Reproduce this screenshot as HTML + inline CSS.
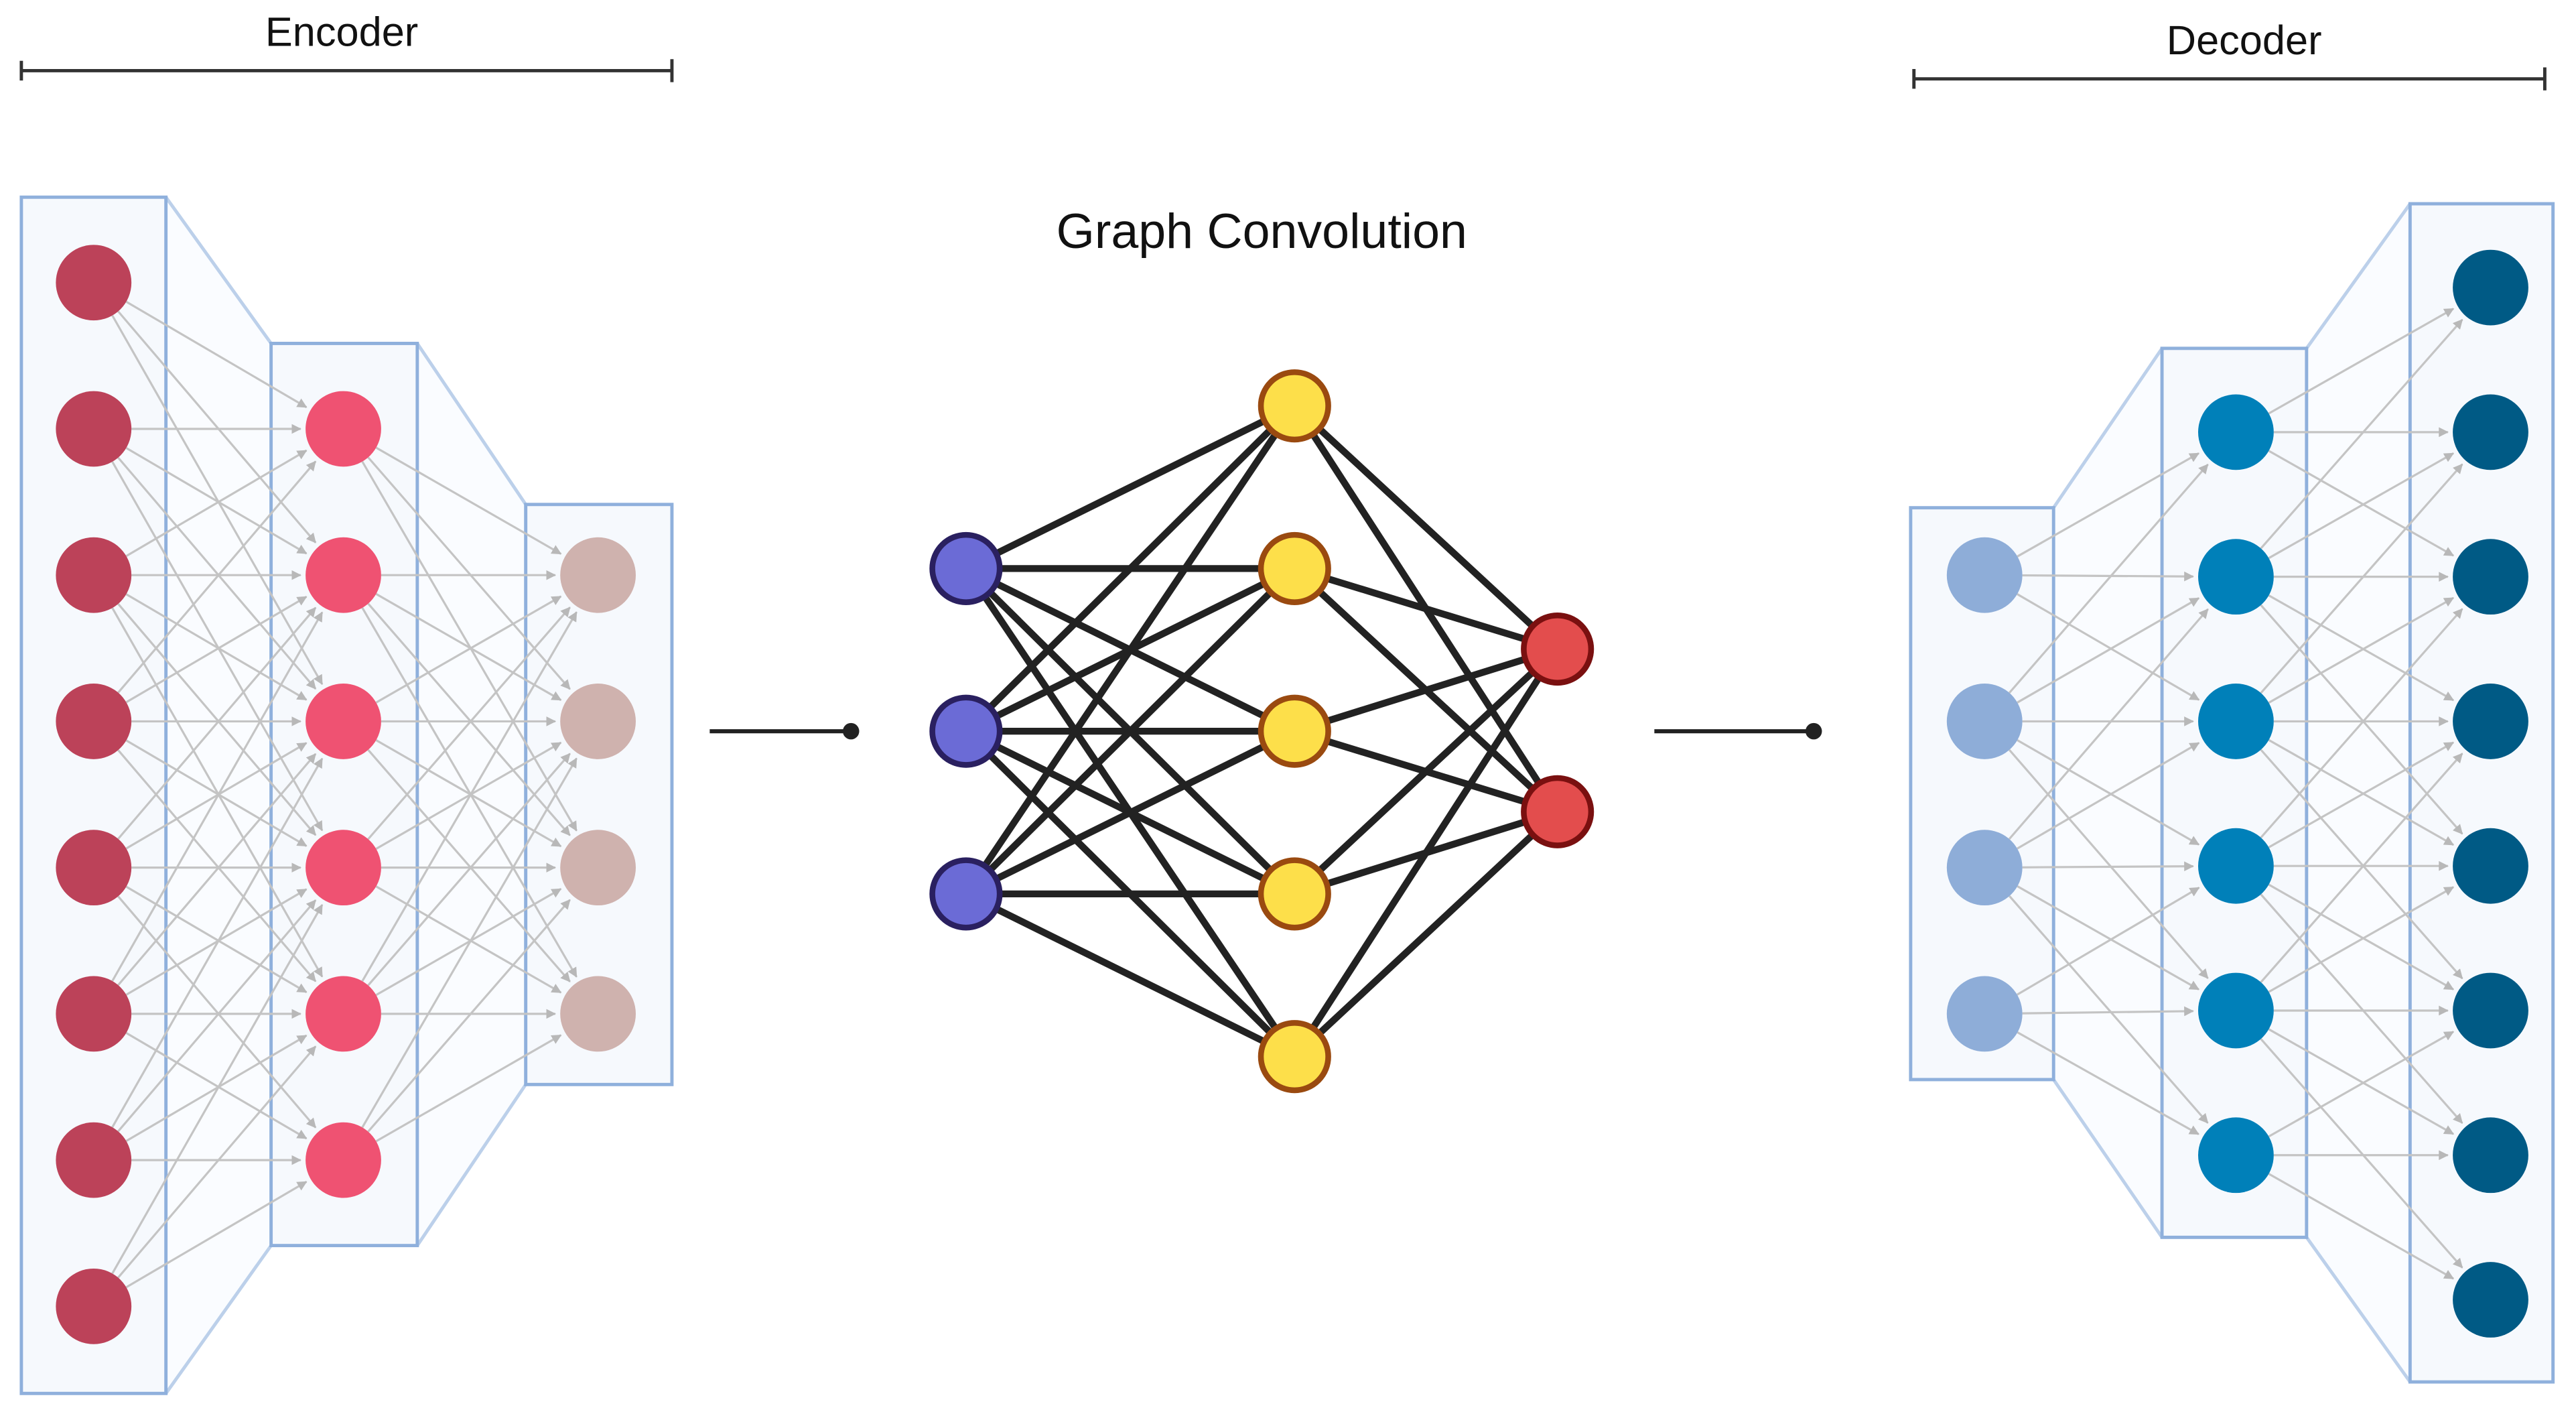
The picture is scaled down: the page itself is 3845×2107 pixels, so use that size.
<!DOCTYPE html>
<html><head><meta charset="utf-8">
<style>
html,body{margin:0;padding:0;background:#fff;}
svg{display:block;}
text{font-family:"Liberation Sans",sans-serif;}
</style></head>
<body>
<svg id="s" width="3845" height="2107" viewBox="0 0 1568 859.3" preserveAspectRatio="none" xmlns="http://www.w3.org/2000/svg">
<defs>
<marker id="ar" markerWidth="6" markerHeight="6" refX="5.5" refY="3" orient="auto" markerUnits="userSpaceOnUse">
<path d="M0,0 L6,3 L0,6 z" fill="#b8b8b8"/>
</marker>
</defs>
<rect width="1568" height="860" fill="#fff"/>
<text x="208" y="28" font-size="25" text-anchor="middle" fill="#111">Encoder</text>
<line x1="13" y1="43" x2="409" y2="43" stroke="#333" stroke-width="2"/>
<line x1="13" y1="37" x2="13" y2="49" stroke="#333" stroke-width="2"/>
<line x1="409" y1="36" x2="409" y2="50" stroke="#333" stroke-width="2"/>
<text x="1366" y="33" font-size="25" text-anchor="middle" fill="#111">Decoder</text>
<line x1="1165" y1="48" x2="1549" y2="48" stroke="#333" stroke-width="2"/>
<line x1="1165" y1="42" x2="1165" y2="54" stroke="#333" stroke-width="2"/>
<line x1="1549" y1="41" x2="1549" y2="55" stroke="#333" stroke-width="2"/>
<text x="768" y="151" font-size="30" text-anchor="middle" fill="#111">Graph Convolution</text>
<line x1="432" y1="445" x2="518" y2="445" stroke="#222" stroke-width="2.5"/>
<circle cx="518" cy="445" r="5" fill="#222"/>
<line x1="1007" y1="445" x2="1104" y2="445" stroke="#222" stroke-width="2.5"/>
<circle cx="1104" cy="445" r="5" fill="#222"/>
<g id="g"></g>
</svg>
<script>
var NS="http://www.w3.org/2000/svg",g=document.getElementById("g");
function el(t,a){var e=document.createElementNS(NS,t);for(var k in a)e.setAttribute(k,a[k]);g.appendChild(e);return e;}
function box(x1,y1,x2,y2){el("rect",{x:x1,y:y1,width:x2-x1,height:y2-y1,fill:"#f6f9fd",stroke:"#8fb0dc","stroke-width":2});}
function trap(a,b){
 var p;
 if(a[2]<b[0]){p=[a[2],a[1],b[0],b[1],b[0],b[3],a[2],a[3]];}
 else{p=[a[0],a[1],b[2],b[1],b[2],b[3],a[0],a[3]];}
 el("polygon",{points:p.join(","),fill:"#fafcff",stroke:"none"});
 el("line",{x1:p[0],y1:p[1],x2:p[2],y2:p[3],stroke:"#bcd0ea","stroke-width":2});
 el("line",{x1:p[6],y1:p[7],x2:p[4],y2:p[5],stroke:"#bcd0ea","stroke-width":2});
}
function ys(a,step,n){var r=[];for(var i=0;i<n;i++)r.push(a+i*step);return r;}
function conn(x1,Y1,x2,Y2,r){
 for(var i=0;i<Y1.length;i++){
  var t=i*(Y2.length-1)/(Y1.length-1);
  for(var j=0;j<Y2.length;j++){
   if(Math.abs(j-t)>2.6)continue;
   var dx=x2-x1,dy=Y2[j]-Y1[i],L=Math.sqrt(dx*dx+dy*dy);
   var ux=dx/L,uy=dy/L;
   el("line",{x1:x1+ux*r,y1:Y1[i]+uy*r,x2:x2-ux*(r+3),y2:Y2[j]-uy*(r+3),stroke:"#c4c4c4","stroke-width":1.3,"marker-end":"url(#ar)"});
  }
 }
}
var B1=[13,120,101,848],B2=[165,209,254,758],B3=[320,307,409,660];
trap(B1,B2);trap(B2,B3);box.apply(null,B1);box.apply(null,B2);box.apply(null,B3);
var e1=ys(172,89,8),e2=ys(261,89,6),e3=ys(350,89,4);
conn(57,e1,209,e2,23);conn(209,e2,364,e3,23);
e1.forEach(function(y){el("circle",{cx:57,cy:y,r:23,fill:"#bc4259"});});
e2.forEach(function(y){el("circle",{cx:209,cy:y,r:23,fill:"#ef5272"});});
e3.forEach(function(y){el("circle",{cx:364,cy:y,r:23,fill:"#cfb2ae"});});
var D1=[1163,309,1250,657],D2=[1316,212,1404,753],D3=[1467,124,1554,841];
trap(D2,D1);trap(D3,D2);box.apply(null,D1);box.apply(null,D2);box.apply(null,D3);
var d1=ys(350,89,4),d2=ys(263,88,6),d3=ys(175,88,8);
conn(1208,d1,1361,d2,23);conn(1361,d2,1516,d3,23);
d1.forEach(function(y){el("circle",{cx:1208,cy:y,r:23,fill:"#8eadd8"});});
d2.forEach(function(y){el("circle",{cx:1361,cy:y,r:23,fill:"#0080b9"});});
d3.forEach(function(y){el("circle",{cx:1516,cy:y,r:23,fill:"#005a85"});});
var gi=[346,445,544],gh=[247,346,445,544,643],go=[395,494];
gi.forEach(function(a){gh.forEach(function(b){el("line",{x1:588,y1:a,x2:788,y2:b,stroke:"#222","stroke-width":4.2});});});
gh.forEach(function(a){go.forEach(function(b){el("line",{x1:788,y1:a,x2:948,y2:b,stroke:"#222","stroke-width":4.2});});});
gi.forEach(function(y){el("circle",{cx:588,cy:y,r:20.5,fill:"#6b6bd6",stroke:"#2a2060","stroke-width":3.5});});
gh.forEach(function(y){el("circle",{cx:788,cy:y,r:20.5,fill:"#fddf4a",stroke:"#9a4a10","stroke-width":3.5});});
go.forEach(function(y){el("circle",{cx:948,cy:y,r:20.5,fill:"#e34d4d",stroke:"#7a1010","stroke-width":3.5});});
</script>
</body></html>
